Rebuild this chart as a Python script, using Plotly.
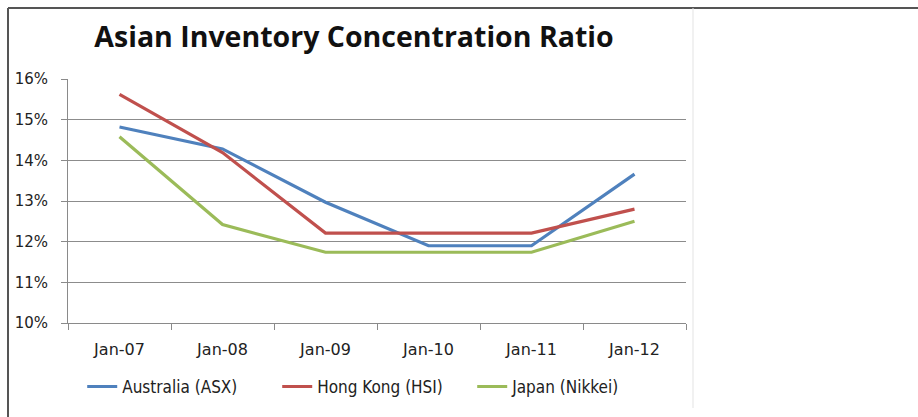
import plotly.graph_objects as go

# Category axis and series values (fraction of total)
months = ["Jan-07", "Jan-08", "Jan-09", "Jan-10", "Jan-11", "Jan-12"]
australia = [0.1482, 0.1428, 0.1297, 0.1190, 0.1190, 0.1366]
hong_kong = [0.1562, 0.1419, 0.1221, 0.1221, 0.1221, 0.1280]
japan = [0.1458, 0.1242, 0.1174, 0.1174, 0.1174, 0.1250]

series = [
    ("Australia (ASX)", australia, "#4F81BD"),
    ("Hong Kong (HSI)", hong_kong, "#C0504D"),
    ("Japan (Nikkei)", japan, "#9BBB59"),
]

fig = go.Figure()
for name, vals, color in series:
    fig.add_trace(go.Scatter(
        x=months, y=vals, name=name, mode="lines",
        line=dict(color=color, width=3.2),
    ))

W, H = 918, 417
L, R, T, B = 68, 232, 79, 94

fig.update_layout(
    width=W, height=H,
    margin=dict(l=L, r=R, t=T, b=B),
    paper_bgcolor="white", plot_bgcolor="white",
    title=dict(
        text="<b>Asian Inventory Concentration Ratio</b>",
        x=354 / W, xanchor="center", xref="container",
        y=1 - 37 / H, yanchor="middle", yref="container",
        font=dict(family="Open Sans, Lato, sans-serif", size=28.5, color="#111"),
    ),
    xaxis=dict(
        type="category", range=[-0.5, 5.5],
        showgrid=False, showline=True, linecolor="#8a8a8a", linewidth=1,
        ticks="outside", tickson="boundaries", ticklen=6, tickcolor="#8a8a8a",
        tickfont=dict(family="DejaVu Sans", size=16, color="#222"),
        ticklabelstandoff=12,
        fixedrange=True,
    ),
    yaxis=dict(
        range=[0.10, 0.16], dtick=0.01, tickformat=".0%",
        showgrid=True, gridcolor="#8c8c8c", gridwidth=1,
        showline=True, linecolor="#8a8a8a", linewidth=1,
        ticks="outside", ticklen=6, tickcolor="#8a8a8a",
        tickfont=dict(family="DejaVu Sans", size=15, color="#222"),
        ticklabelstandoff=10,
        zeroline=False, fixedrange=True,
    ),
    legend=dict(
        orientation="h", x=0.023, xanchor="left",
        y=-0.262, yanchor="middle",
        font=dict(family="DejaVu Sans Condensed, DejaVu Sans", size=17, color="#222"),
        bgcolor="rgba(0,0,0,0)", entrywidth=150, entrywidthmode="pixels",
    ),
    showlegend=True,
)

# Outer frame: dark top and left edges, faint right edge of the chart area
frame = [
    dict(x0=8, x1=W, y0=8, y1=8, color="#555", width=2),
    dict(x0=8, x1=8, y0=8, y1=H, color="#555", width=2),
    dict(x0=693, x1=693, y0=8, y1=408, color="#e3e3e3", width=1),
]
for f in frame:
    fig.add_shape(type="line", xref="paper", yref="paper",
                  x0=(f["x0"] - L) / (W - L - R), x1=(f["x1"] - L) / (W - L - R),
                  y0=(H - f["y0"] - B) / (H - T - B), y1=(H - f["y1"] - B) / (H - T - B),
                  line=dict(color=f["color"], width=f["width"]))

fig.write_html("out.html")
